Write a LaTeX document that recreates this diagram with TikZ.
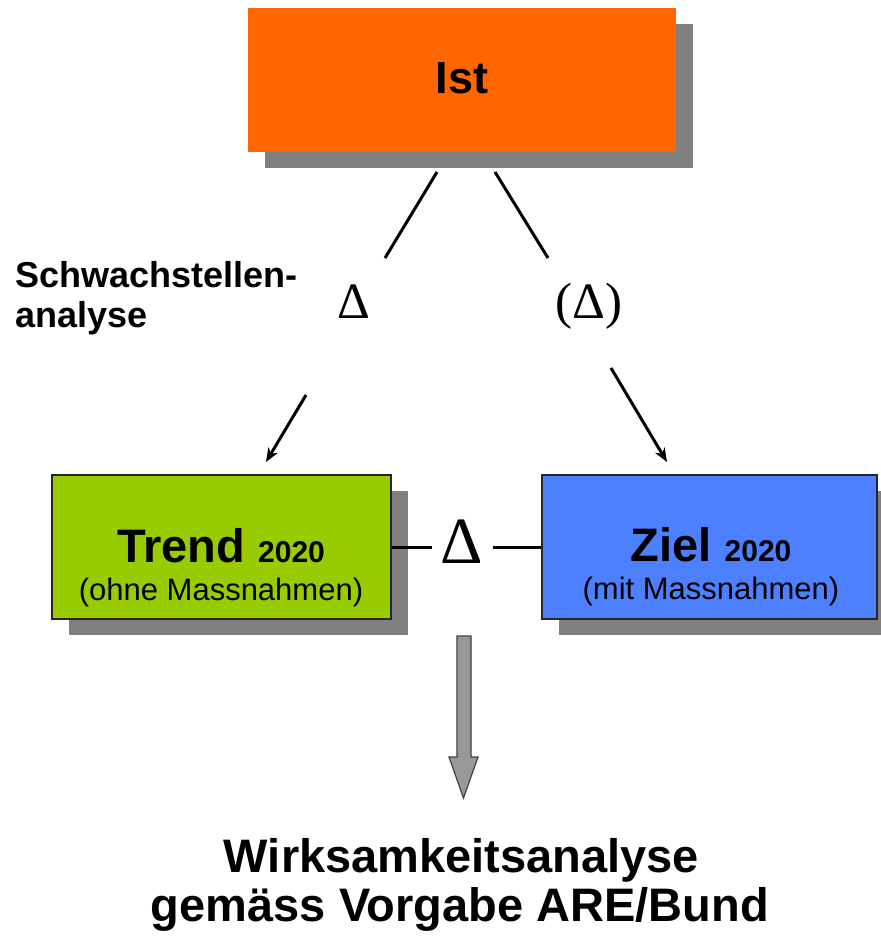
\documentclass[tikz,border=0pt]{standalone}
\usepackage{fontspec}
\setmainfont{Liberation Sans}
\newfontfamily\seriffont{Liberation Serif}
\usetikzlibrary{arrows.meta,shadows}
\definecolor{istorange}{HTML}{FF6600}
\definecolor{trendgreen}{HTML}{99CC00}
\definecolor{zielblue}{HTML}{4D80FF}
\definecolor{shadowgray}{HTML}{808080}
\definecolor{arrowgray}{HTML}{999999}
\tikzset{
  box/.style={rectangle, inner sep=0pt,
    drop shadow={shadow xshift=17pt, shadow yshift=-16pt, fill=shadowgray, opacity=1}},
  framed/.style={draw=black!85, line width=1.5pt},
  conn/.style={line width=3pt},
  arr/.style={conn, -{Stealth[length=14pt,width=11pt]}},
  lbl/.style={anchor=base, inner sep=0pt},
  lblw/.style={anchor=base west, inner sep=0pt},
  delta/.style={anchor=base, inner sep=0pt},
}
\begin{document}
\begin{tikzpicture}[x=1pt,y=-1pt]
\useasboundingbox (0,0) rectangle (881,938);

% boxes
\node[box, fill=istorange, minimum width=428pt, minimum height=144pt] (ist) at (462,80) {};
\node[box, framed, fill=trendgreen, minimum width=339pt, minimum height=144pt] (trend) at (221.5,547) {};
\node[box, framed, fill=zielblue, minimum width=335pt, minimum height=144pt] (ziel) at (709.5,547) {};

% box texts
\node[lbl, font=\bfseries\fontsize{45}{45}\selectfont] (isttext) at (462,93) {Ist};
\node[lbl, font=\bfseries\fontsize{47}{47}\selectfont] (trendtitle) at (221,562) {Trend {\fontsize{30}{30}\selectfont 2020}};
\node[lbl, font=\fontsize{31}{31}\selectfont] (trendsub) at (221,600) {(ohne Massnahmen)};
\node[lbl, font=\bfseries\fontsize{47}{47}\selectfont] (zieltitle) at (711,561) {Ziel {\fontsize{30}{30}\selectfont 2020}};
\node[lbl, font=\fontsize{31}{31}\selectfont] (zielsub) at (711,599) {(mit Massnahmen)};

% side label
\node[lblw, font=\bfseries\fontsize{36}{36}\selectfont] (schwach1) at (15,287) {Schwachstellen-};
\node[lblw, font=\bfseries\fontsize{36}{36}\selectfont] (schwach2) at (15,327) {analyse};

% deltas
\node[delta, font=\seriffont\fontsize{51}{51}\selectfont] (dleft) at (353.5,318) {Δ};
\node[delta, font=\seriffont\fontsize{51}{51}\selectfont] (dright) at (589,318) {(Δ)};
\node[delta, font=\seriffont\fontsize{66}{66}\selectfont] (dmid) at (462,563) {Δ};

% connector end points
\coordinate (l1a) at (437,172);
\coordinate (l1b) at (385,258);
\coordinate (l2a) at (495,172);
\coordinate (l2b) at (548,258);
\coordinate (a1a) at (306,395);
\coordinate (a1b) at (266,462);
\coordinate (a2a) at (611,368);
\coordinate (a2b) at (667,462);
\coordinate (mL) at (432,547);
\coordinate (mR) at (493,547);

\draw[conn] (l1a) -- (l1b);
\draw[conn] (l2a) -- (l2b);
\draw[arr] (a1a) -- (a1b);
\draw[arr] (a2a) -- (a2b);
\draw[conn] (trend.east) -- (mL);
\draw[conn] (mR) -- (ziel.west);

% block arrow
\draw[fill=arrowgray, draw=black!75, line width=1.2pt, line join=miter]
  (457,636) -- (471,636) -- (471,757) -- (478,757) -- (463.5,798) -- (449,757) -- (457,757) -- cycle;

% bottom text
\node[lbl, font=\bfseries\fontsize{47}{47}\selectfont] (wirk1) at (461.5,872) {Wirksamkeitsanalyse};
\node[lbl, font=\bfseries\fontsize{47}{47}\selectfont] (wirk2) at (460,921) {gemäss Vorgabe ARE/Bund};
\end{tikzpicture}
\end{document}
